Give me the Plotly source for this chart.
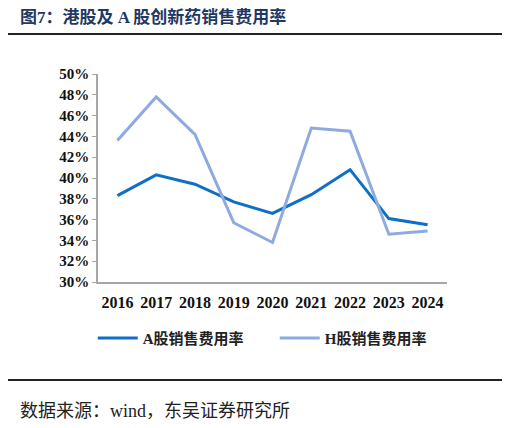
import plotly.graph_objects as go

# data
years = ["2016", "2017", "2018", "2019", "2020", "2021", "2022", "2023", "2024"]
a_share = [38.3, 40.3, 39.4, 37.7, 36.6, 38.4, 40.8, 36.1, 35.5]
h_share = [43.6, 47.8, 44.2, 35.7, 33.8, 44.8, 44.5, 34.6, 34.9]
y_ticks = [30, 32, 34, 36, 38, 40, 42, 44, 46, 48, 50]

serif = "Liberation Serif, Times New Roman, serif"
cjk = "Liberation Serif, Noto Sans CJK SC, serif"

fig = go.Figure()
fig.add_trace(go.Scatter(x=years, y=a_share, mode="lines", name="A股销售费用率",
                         line=dict(color="#0F6FC6", width=3)))
fig.add_trace(go.Scatter(x=years, y=h_share, mode="lines", name="H股销售费用率",
                         line=dict(color="#8EAADF", width=3)))

# page body adds an 8px offset, so the figure is drawn 8px smaller
fig.update_layout(
    width=502, height=420,
    margin=dict(l=90, r=63, t=66, b=146),
    paper_bgcolor="white", plot_bgcolor="white",
    showlegend=True,
    legend=dict(orientation="h", x=-0.015, y=-0.27, xanchor="left", yanchor="middle",
                font=dict(family=cjk, size=15, color="#222222", weight="bold"),
                entrywidth=127, itemwidth=40),
    xaxis=dict(range=[-0.5, 8.5], showgrid=False, showline=True, linecolor="#A6A6A6", linewidth=1.5,
               ticks="", ticklabelstandoff=5,
               tickfont=dict(family=serif, size=16, color="#111111", weight="bold")),
    yaxis=dict(range=[30, 50], tickvals=y_ticks, ticktext=[f"{v}%" for v in y_ticks],
               showgrid=False, zeroline=False, showline=True, linecolor="#A6A6A6", linewidth=1.5,
               ticks="outside", ticklen=4, tickcolor="#A6A6A6",
               tickfont=dict(family=serif, size=15, color="#111111", weight="bold")),
)

# title, rules and source note
fig.add_annotation(text="图7：港股及 A 股创新药销售费用率", xref="paper", yref="paper",
                   x=-0.229, y=1.272, xanchor="left", yanchor="middle", showarrow=False,
                   font=dict(family=cjk, size=17, color="#1F3864", weight="bold"))
fig.add_shape(type="line", xref="paper", yref="paper", x0=-0.266, x1=1.166, y0=1.192, y1=1.192,
              line=dict(color="#222222", width=2))
fig.add_shape(type="line", xref="paper", yref="paper", x0=-0.266, x1=1.166, y0=-0.471, y1=-0.471,
              line=dict(color="#222222", width=2))
fig.add_annotation(text="数据来源：wind，东吴证券研究所", xref="paper", yref="paper",
                   x=-0.229, y=-0.618, xanchor="left", yanchor="middle", showarrow=False,
                   font=dict(family=cjk, size=18, color="#222222"))

fig.write_html("out.html")
